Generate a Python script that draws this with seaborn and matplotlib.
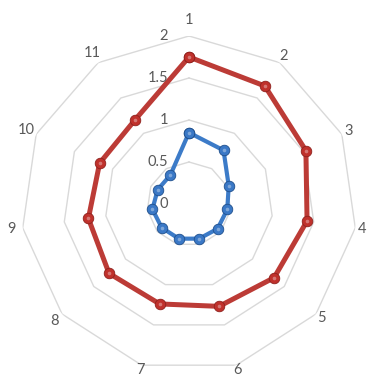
import numpy as np
import pandas as pd
import matplotlib
matplotlib.use("Agg")
import matplotlib.pyplot as plt
import seaborn as sns

# Category labels around the radar and the two series
categories = ["1", "2", "3", "4", "5", "6", "7", "8", "9", "10", "11"]
series_outer = [1.75, 1.67, 1.53, 1.42, 1.34, 1.27, 1.24, 1.26, 1.21, 1.17, 1.19]
series_inner = [0.85, 0.76, 0.52, 0.46, 0.45, 0.43, 0.43, 0.43, 0.44, 0.41, 0.41]
radial_ticks = [0, 0.5, 1, 1.5, 2]
radial_labels = ["0", "0.5", "1", "1.5", "2"]

sns.set_theme(style="white")
plt.rcParams["font.family"] = ["Lato", "DejaVu Sans"]

W, H = 367, 376
fig = plt.figure(figsize=(W / 100, H / 100), dpi=100)
cx, cy, R = 189, 204, 168
ax = fig.add_axes([(cx - R) / W, (H - cy - R) / H, 2 * R / W, 2 * R / H],
                  projection="polar")
ax.set_theta_zero_location("N")
ax.set_theta_direction(-1)
ax.set_ylim(0, 2)
ax.grid(False)
ax.spines["polar"].set_visible(False)
ax.set_xticks([])
ax.set_yticks([])
ax.patch.set_alpha(0)

n = len(categories)
theta = np.linspace(0, 2 * np.pi, n, endpoint=False)

# polygonal gridlines
ring_theta = np.append(theta, theta[0])
for r in radial_ticks[1:]:
    ax.plot(ring_theta, np.full(n + 1, r), color="#D9D9D9", lw=1.0, zorder=1)

def closed_frame(values, name):
    t = np.append(theta, 2 * np.pi)
    v = np.append(values, values[0])
    return pd.DataFrame({"theta": t, "value": v, "series": name})

styles = [
    (series_outer, "outer", "#BC3B36", "#C0312C", "#8E211D", 3.6),
    (series_inner, "inner", "#3C7BC8", "#3A78C6", "#1F4F8C", 3.0),
]
for vals, name, lc, fc, ec, lw in styles:
    df = closed_frame(vals, name)
    sns.lineplot(data=df, x="theta", y="value", sort=False, estimator=None,
                 color=lc, lw=lw, marker="o", markersize=7.6,
                 markerfacecolor=fc, markeredgecolor=ec, markeredgewidth=0.6,
                 ax=ax, zorder=3, legend=False)
    # specular highlight on the spherical markers
    ax.plot(theta, vals, ls="none", marker="o", markersize=2.6,
            markerfacecolor="white", markeredgewidth=0, alpha=0.35, zorder=4)

ax.set_xlabel("")
ax.set_ylabel("")

# radial value labels left of the vertical axis
for r, lab in zip(radial_ticks, radial_labels):
    ax.annotate(lab, xy=(0, r), xytext=(-15, 0), textcoords="offset points",
                ha="right", va="center", fontsize=10.5, color="#595959", zorder=5)

# category labels outside the outer ring
label_r = [2.19, 2.09, 2.09, 2.08, 2.08, 2.06, 2.06, 2.12, 2.13, 2.13, 2.13]
for t, lab, rr in zip(theta, categories, label_r):
    ax.text(t, rr, lab, ha="center", va="center", fontsize=10.5, color="#595959")

fig.savefig("out.png", dpi=100)
